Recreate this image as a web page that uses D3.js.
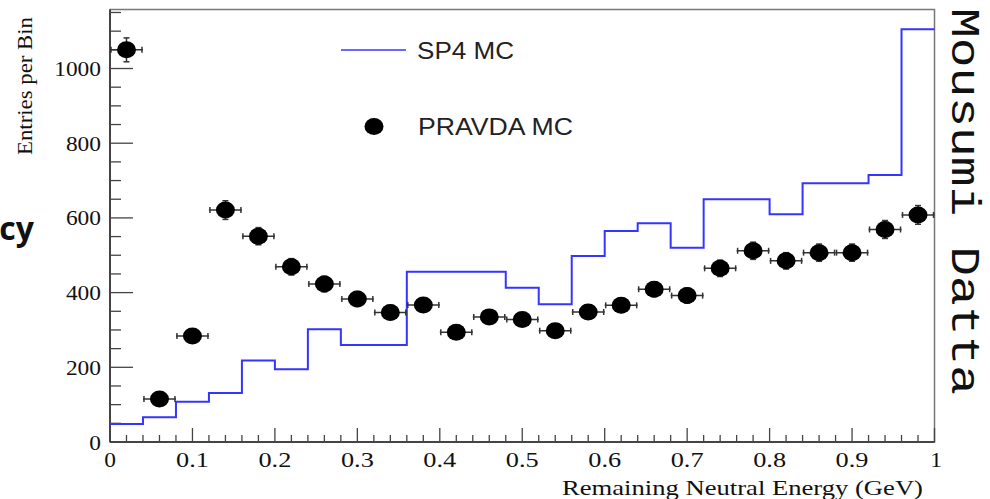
<!DOCTYPE html>
<html>
<head>
<meta charset="utf-8">
<script src="https://cdn.jsdelivr.net/npm/d3@7/dist/d3.min.js"></script>
<style>
  html, body { margin: 0; padding: 0; background: #fff; }
  svg { display: block; }
</style>
</head>
<body>
<script>
// ---- data ----
const binEdges = [0,0.04,0.08,0.12,0.16,0.20,0.24,0.28,0.32,0.36,0.40,0.44,0.48,0.52,0.56,0.60,0.64,0.68,0.72,0.76,0.80,0.84,0.88,0.92,0.96,1.00];
const binCenters = [0.02,0.06,0.10,0.14,0.18,0.22,0.26,0.30,0.34,0.38,0.42,0.46,0.50,0.54,0.58,0.62,0.66,0.70,0.74,0.78,0.82,0.86,0.90,0.94,0.98];
const sp4Values = [48,66,108,131,218,195,302,260,260,456,456,456,413,369,498,565,586,520,650,650,610,693,693,715,1105];
const pravdaValues = [1050,115,284,621,551,469,423,383,347,367,294,335,328,298,348,366,409,392,465,512,485,507,507,569,608];
const pravdaErrors = [32,11,17,25,23,22,21,20,19,19,17,18,18,17,19,19,20,20,22,23,22,23,23,24,25];
const yMajorTicks = [0,200,400,600,800,1000];
const yMinorTicks = [50,100,150,250,300,350,450,500,550,650,700,750,850,900,950,1050,1100,1150];
const xMajorTicks = [0,0.1,0.2,0.3,0.4,0.5,0.6,0.7,0.8,0.9,1];
const xTickLabels = ["0","0.1","0.2","0.3","0.4","0.5","0.6","0.7","0.8","0.9","1"];
const xMinorTicks = [0.02,0.04,0.06,0.08,0.12,0.14,0.16,0.18,0.22,0.24,0.26,0.28,0.32,0.34,0.36,0.38,0.42,0.44,0.46,0.48,0.52,0.54,0.56,0.58,0.62,0.64,0.66,0.68,0.72,0.74,0.76,0.78,0.82,0.84,0.86,0.88,0.92,0.94,0.96,0.98];
const legendLabels = ["SP4 MC", "PRAVDA MC"];
const xTitle = "Remaining Neutral Energy (GeV)";
const yTitle = "Entries per Bin";
const author = "Mousumi Datta";
const sideText = "cy";

// ---- layout ----
const W = 990, H = 499;
const svg = d3.select("body").append("svg").attr("width", W).attr("height", H);

const x = d3.scaleLinear().domain([0, 1]).range([110, 934.5]);
const y = d3.scaleLinear().domain([0, 1158]).range([442, 9.5]);

const axisColor = "#444";
const histColor = "#3535ff";

// frame
svg.append("rect")
  .attr("x", x(0)).attr("y", y(1158))
  .attr("width", x(1) - x(0)).attr("height", y(0) - y(1158))
  .attr("fill", "none").attr("stroke", "#777").attr("stroke-width", 1.5);

// y axis ticks (pointing inward)
const gy = svg.append("g");
gy.selectAll("line.maj").data(yMajorTicks).join("line")
  .attr("x1", x(0)).attr("x2", x(0) + 23)
  .attr("y1", d => y(d)).attr("y2", d => y(d))
  .attr("stroke", axisColor).attr("stroke-width", 1.3);
gy.selectAll("line.min").data(yMinorTicks).join("line")
  .attr("x1", x(0)).attr("x2", x(0) + 11)
  .attr("y1", d => y(d)).attr("y2", d => y(d))
  .attr("stroke", axisColor).attr("stroke-width", 1.3);
gy.selectAll("text").data(yMajorTicks).join("text")
  .attr("x", 101).attr("y", d => y(d) + 7.5)
  .attr("text-anchor", "end")
  .attr("font-family", "Liberation Serif")
  .attr("font-size", 22)
  .attr("fill", "#111")
  .attr("textLength", d => String(d).length * 11.7)
  .attr("lengthAdjust", "spacingAndGlyphs")
  .text(d => d);

// x axis ticks
const gx = svg.append("g");
gx.selectAll("line.maj").data(xMajorTicks).join("line")
  .attr("x1", d => x(d)).attr("x2", d => x(d))
  .attr("y1", y(0)).attr("y2", y(0) - 14)
  .attr("stroke", axisColor).attr("stroke-width", 1.3);
gx.selectAll("line.min").data(xMinorTicks).join("line")
  .attr("x1", d => x(d)).attr("x2", d => x(d))
  .attr("y1", y(0)).attr("y2", y(0) - 7)
  .attr("stroke", axisColor).attr("stroke-width", 1.3);
gx.selectAll("text").data(xMajorTicks).join("text")
  .attr("x", (d, i) => x(d) + (i === xMajorTicks.length - 1 ? 1.5 : 0))
  .attr("y", 467)
  .attr("text-anchor", "middle")
  .attr("font-family", "Liberation Serif")
  .attr("font-size", 22)
  .attr("fill", "#111")
  .attr("textLength", (d, i) => {
    const s = xTickLabels[i];
    return s.replace(".", "").length * 11.7 + (s.includes(".") ? 9.5 : 0);
  })
  .attr("lengthAdjust", "spacingAndGlyphs")
  .text((d, i) => xTickLabels[i]);

// axis lines
svg.append("line").attr("x1", x(0)).attr("x2", x(1)).attr("y1", y(0)).attr("y2", y(0))
  .attr("stroke", axisColor).attr("stroke-width", 2);
svg.append("line").attr("x1", x(0)).attr("x2", x(0)).attr("y1", y(0)).attr("y2", y(1158))
  .attr("stroke", axisColor).attr("stroke-width", 2);

// titles
svg.append("text")
  .attr("x", 923).attr("y", 495)
  .attr("text-anchor", "end")
  .attr("font-family", "Liberation Serif").attr("font-size", 22)
  .attr("fill", "#111")
  .attr("textLength", 361).attr("lengthAdjust", "spacingAndGlyphs")
  .text(xTitle);
svg.append("text")
  .attr("transform", "translate(32,155) rotate(-90)")
  .attr("text-anchor", "start")
  .attr("font-family", "Liberation Serif").attr("font-size", 22)
  .attr("fill", "#111")
  .attr("textLength", 138).attr("lengthAdjust", "spacingAndGlyphs")
  .text(yTitle);

// SP4 histogram (step line)
const stepPts = [];
sp4Values.forEach((v, i) => {
  stepPts.push([binEdges[i], v]);
  stepPts.push([binEdges[i + 1], v]);
});
svg.append("path")
  .datum(stepPts)
  .attr("d", d3.line().x(d => x(d[0])).y(d => y(d[1])))
  .attr("fill", "none").attr("stroke", histColor).attr("stroke-width", 2);

// PRAVDA points with error bars
const gp = svg.append("g");
const pts = pravdaValues.map((v, i) => ({ c: binCenters[i], v, e: pravdaErrors[i], lo: binEdges[i], hi: binEdges[i + 1] }));
const errCol = "#333";
gp.selectAll("line.h").data(pts).join("line")
  .attr("x1", d => x(d.lo)).attr("x2", d => x(d.hi))
  .attr("y1", d => y(d.v)).attr("y2", d => y(d.v))
  .attr("stroke", errCol).attr("stroke-width", 1.5);
gp.selectAll("line.cl").data(pts).join("line")
  .attr("x1", d => x(d.lo) + 1).attr("x2", d => x(d.lo) + 1)
  .attr("y1", d => y(d.v) - 3).attr("y2", d => y(d.v) + 3)
  .attr("stroke", errCol).attr("stroke-width", 1.5);
gp.selectAll("line.cr").data(pts).join("line")
  .attr("x1", d => x(d.hi) - 1).attr("x2", d => x(d.hi) - 1)
  .attr("y1", d => y(d.v) - 3).attr("y2", d => y(d.v) + 3)
  .attr("stroke", errCol).attr("stroke-width", 1.5);
gp.selectAll("line.v").data(pts).join("line")
  .attr("x1", d => x(d.c)).attr("x2", d => x(d.c))
  .attr("y1", d => y(d.v - d.e)).attr("y2", d => y(d.v + d.e))
  .attr("stroke", errCol).attr("stroke-width", 1.5);
gp.selectAll("line.vt").data(pts).join("line")
  .attr("x1", d => x(d.c) - 3).attr("x2", d => x(d.c) + 3)
  .attr("y1", d => y(d.v + d.e)).attr("y2", d => y(d.v + d.e))
  .attr("stroke", errCol).attr("stroke-width", 1.5);
gp.selectAll("line.vb").data(pts).join("line")
  .attr("x1", d => x(d.c) - 3).attr("x2", d => x(d.c) + 3)
  .attr("y1", d => y(d.v - d.e)).attr("y2", d => y(d.v - d.e))
  .attr("stroke", errCol).attr("stroke-width", 1.5);
gp.selectAll("ellipse").data(pts).join("ellipse")
  .attr("cx", d => x(d.c)).attr("cy", d => y(d.v))
  .attr("rx", 9.5).attr("ry", 8.5)
  .attr("fill", "#000");

// legend
const lg = svg.append("g");
lg.append("line").attr("x1", 341).attr("x2", 406).attr("y1", 50).attr("y2", 50)
  .attr("stroke", "#6a6aff").attr("stroke-width", 2);
lg.append("text").attr("x", 417).attr("y", 58.5)
  .attr("font-family", "Liberation Sans").attr("font-size", 23).attr("fill", "#222")
  .attr("textLength", 97).attr("lengthAdjust", "spacingAndGlyphs")
  .text(legendLabels[0]);
lg.append("ellipse").attr("cx", 374).attr("cy", 126.5).attr("rx", 9.5).attr("ry", 8.5).attr("fill", "#000");
lg.append("text").attr("x", 418).attr("y", 135)
  .attr("font-family", "Liberation Sans").attr("font-size", 23).attr("fill", "#222")
  .attr("textLength", 155).attr("lengthAdjust", "spacingAndGlyphs")
  .text(legendLabels[1]);

// side texts
svg.append("text")
  .attr("x", 34).attr("y", 240)
  .attr("text-anchor", "end")
  .attr("font-family", "Open Sans").attr("font-weight", "bold").attr("font-size", 32)
  .attr("fill", "#111")
  .text(sideText);
svg.append("text")
  .attr("transform", "translate(952,8) rotate(90)")
  .attr("font-family", "Liberation Mono").attr("font-size", 40)
  .attr("fill", "#111")
  .attr("textLength", 387).attr("lengthAdjust", "spacingAndGlyphs")
  .text(author);
</script>
</body>
</html>
